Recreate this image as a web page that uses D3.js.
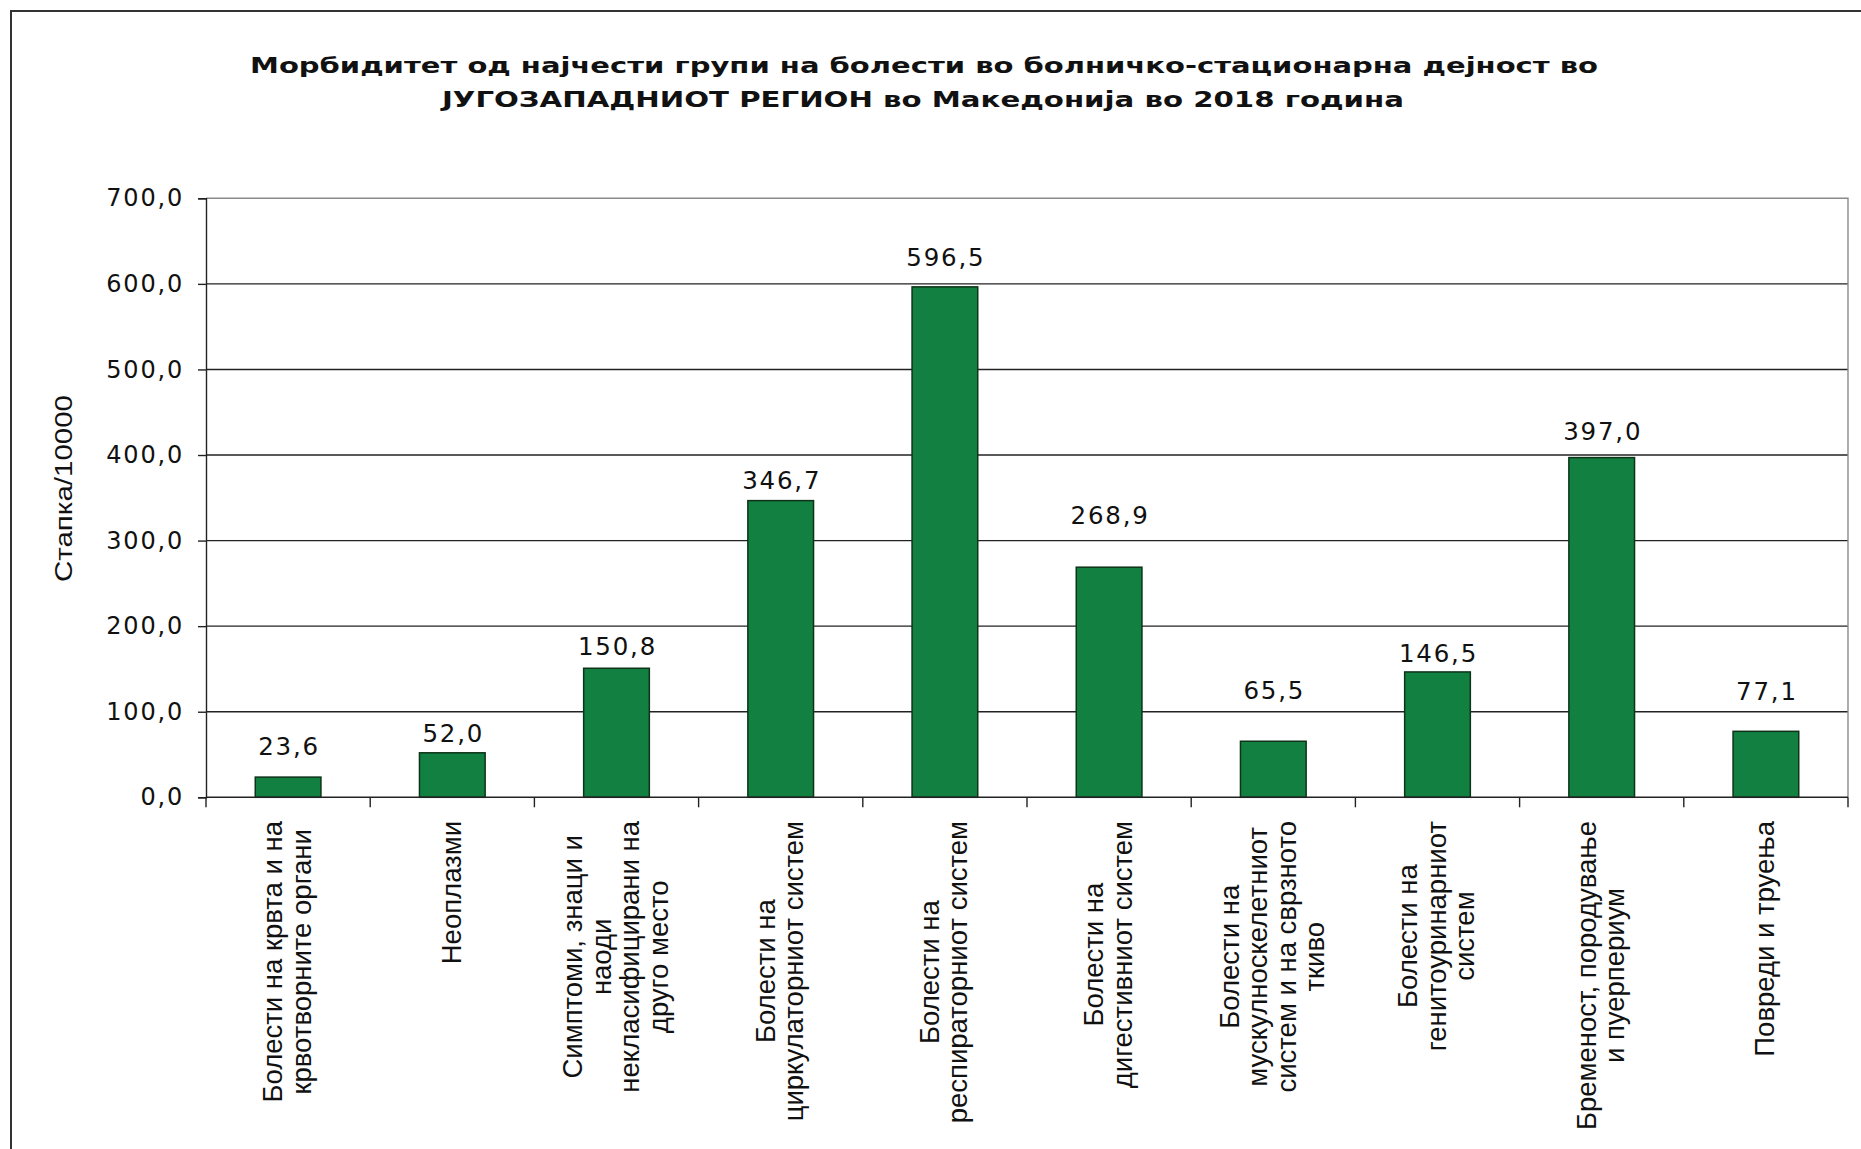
<!DOCTYPE html>
<html>
<head>
<meta charset="utf-8">
<script src="https://cdn.jsdelivr.net/npm/d3@7"></script>
<style>
  html, body { margin: 0; padding: 0; background: #fff; }
  svg { display: block; }
</style>
</head>
<body>
<svg id="chart" width="1861" height="1149"></svg>
<script>
// ---- data ----
const categories = [
  "Болести на крвта и на\nкрвотворните органи",
  "Неоплазми",
  "Симптоми, знаци и\nнаоди\nнекласифицирани на\nдруго место",
  "Болести на\nциркулаторниот систем",
  "Болести на\nреспираторниот систем",
  "Болести на\nдигестивниот систем",
  "Болести на\nмускулноскелетниот\nсистем и на сврзното\nткиво",
  "Болести на\nгенитоуринарниот\nсистем",
  "Бременост, породување\nи пуерпериум",
  "Повреди и труења"
];
const values = [23.6, 52.0, 150.8, 346.7, 596.5, 268.9, 65.5, 146.5, 397.0, 77.1];
const yTickValues = [0, 100, 200, 300, 400, 500, 600, 700];
const titleLines = [
  "Морбидитет од најчести групи на болести во болничко-стационарна дејност во",
  "ЈУГОЗАПАДНИОТ РЕГИОН во Македонија во 2018 година"
];
const yAxisTitle = "Стапка/10000";

// ---- layout (not data) ----
const labelLift = [22, 11, 13, 12, 21, 43, 42, 10, 18, 31];
const plot = { left: 206, right: 1848, top: 198.3, bottom: 797.3 };

const svg = d3.select("#chart");
const fmt = v => d3.format(".1f")(v).replace(".", ",");

// outer frame (cut off at right and bottom like the reference)
svg.append("rect")
  .attr("x", 11).attr("y", 11).attr("width", 2400).attr("height", 2400)
  .attr("fill", "none").attr("stroke", "#333").attr("stroke-width", 2);

// title
const titleG = svg.append("g")
  .attr("font-family", "'DejaVu Sans', Verdana, sans-serif")
  .attr("font-weight", "bold").attr("font-size", 22).attr("fill", "#111");
const titleGeom = [{ x: 250, y: 73, len: 1348 }, { x: 442, y: 107, len: 962 }];
titleLines.forEach((t, i) => {
  titleG.append("text")
    .attr("x", titleGeom[i].x).attr("y", titleGeom[i].y)
    .attr("textLength", titleGeom[i].len)
    .attr("lengthAdjust", "spacingAndGlyphs")
    .text(t);
});

// scales
const x = d3.scaleBand().domain(categories)
  .range([plot.left, plot.right]).paddingInner(0.6).paddingOuter(0.3);
const y = d3.scaleLinear().domain([0, 700]).range([plot.bottom, plot.top]);

// gridlines
svg.append("g").selectAll("line").data(yTickValues.filter(v => v > 0 && v < 700)).join("line")
  .attr("x1", plot.left).attr("x2", plot.right)
  .attr("y1", d => y(d)).attr("y2", d => y(d))
  .attr("stroke", "#222").attr("stroke-width", 1.4);

// plot area border (top & right, grey)
svg.append("path")
  .attr("d", `M${plot.left},${y(700)}H${plot.right}V${plot.bottom}`)
  .attr("fill", "none").attr("stroke", "#8a8a8a").attr("stroke-width", 1.4);

// y axis
const yAxis = d3.axisLeft(y).tickValues(yTickValues).tickFormat(fmt)
  .tickSize(8).tickPadding(14);
const yG = svg.append("g").attr("transform", `translate(${plot.left},0)`).call(yAxis);
yG.select(".domain").attr("stroke", "#222").attr("stroke-width", 1.4);
yG.selectAll(".tick line").attr("stroke", "#222").attr("stroke-width", 1.4);
yG.selectAll(".tick text")
  .attr("font-family", "'DejaVu Sans', Verdana, sans-serif")
  .attr("font-size", 24).attr("fill", "#111")
  .attr("letter-spacing", "1.8px");

// y axis title
svg.append("text")
  .attr("transform", `translate(72,${(395 + 582) / 2}) rotate(-90)`)
  .attr("text-anchor", "middle")
  .attr("font-family", "'Liberation Sans', Arial, sans-serif")
  .attr("font-size", 23).attr("fill", "#111")
  .attr("textLength", 187).attr("lengthAdjust", "spacingAndGlyphs")
  .text(yAxisTitle);

// bars
svg.append("g").selectAll("rect").data(values).join("rect")
  .attr("x", (d, i) => x(categories[i]))
  .attr("width", x.bandwidth())
  .attr("y", d => y(d))
  .attr("height", d => y(0) - y(d))
  .attr("fill", "#118040")
  .attr("stroke", "#0d3318").attr("stroke-width", 1.5);

// x axis baseline + ticks at category boundaries
svg.append("line")
  .attr("x1", plot.left).attr("x2", plot.right)
  .attr("y1", y(0)).attr("y2", y(0))
  .attr("stroke", "#222").attr("stroke-width", 1.6);
const bounds = d3.range(categories.length + 1).map(i => x.range()[0] + i * x.step());
svg.append("g").selectAll("line").data(bounds).join("line")
  .attr("x1", d => d).attr("x2", d => d)
  .attr("y1", y(0)).attr("y2", y(0) + 10)
  .attr("stroke", "#222").attr("stroke-width", 1.4);

// value labels
svg.append("g").selectAll("text").data(values).join("text")
  .attr("x", (d, i) => x(categories[i]) + x.bandwidth() / 2 + 1)
  .attr("y", (d, i) => y(d) - labelLift[i])
  .attr("text-anchor", "middle")
  .attr("font-family", "'DejaVu Sans', Verdana, sans-serif")
  .attr("font-size", 24.5).attr("fill", "#111")
  .attr("letter-spacing", "1.8px")
  .text(d => fmt(d));

// category labels (rotated, multi-line, centred lines, block top-aligned)
const fs = 27.5, lineH = 28.5, blockTop = 821;
categories.forEach((c, i) => {
  const lines = c.split("\n");
  const cx = x(c) + x.bandwidth() / 2;
  const g = svg.append("g");
  const texts = lines.map((ln, j) => g.append("text")
    .attr("text-anchor", "middle")
    .attr("font-family", "'Liberation Sans', Arial, sans-serif")
    .attr("font-size", fs).attr("fill", "#111")
    .text(ln));
  const maxLen = d3.max(texts, t => t.node().getComputedTextLength());
  const cy = blockTop + maxLen / 2;
  texts.forEach((t, j) => {
    const off = (j - (lines.length - 1) / 2) * lineH + 0.3 * fs;
    t.attr("transform", `translate(${cx + off},${cy}) rotate(-90)`);
  });
});
</script>
</body>
</html>
